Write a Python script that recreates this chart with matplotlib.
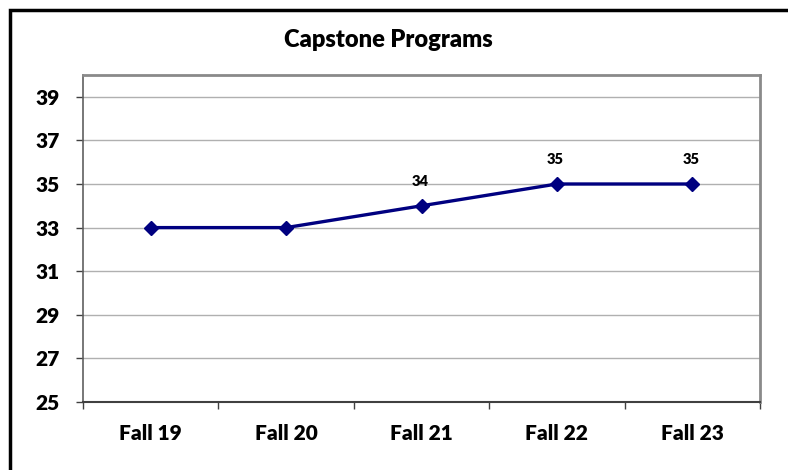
import matplotlib
matplotlib.use("Agg")
import matplotlib.pyplot as plt
from matplotlib.patches import Rectangle
import numpy as np

categories = ["Fall 19", "Fall 20", "Fall 21", "Fall 22", "Fall 23"]
values = [33, 33, 34, 35, 35]
labeled = [False, False, True, True, True]
yticks = [25, 27, 29, 31, 33, 35, 37, 39]

plt.rcParams['font.family'] = ['Lato', 'DejaVu Sans']
W = 'heavy'

fig = plt.figure(figsize=(7.88, 4.70), dpi=100)
ax = fig.add_axes([83/788, 1-402/470, (760-83)/788, (402-75)/470])

x = np.arange(len(categories))
ax.plot(x, values, color='#000080', lw=2.4, marker='D', markersize=7, zorder=3)
for xi, v, lab in zip(x, values, labeled):
    if lab:
        ax.annotate(str(v), (xi, v), xytext=(-1, 17.5), textcoords='offset points',
                    ha='center', va='center', fontsize=10.5, fontweight=W)

ax.set_xlim(-0.5, len(categories) - 0.5)
ax.set_ylim(25, 40)
ax.set_yticks(yticks)
ax.set_yticklabels([str(t) for t in yticks], fontsize=15, fontweight=W)
ax.yaxis.grid(True, color='#b0b0b0', lw=1)
ax.set_axisbelow(True)

ax.set_xticks(x)
ax.set_xticklabels(categories, fontsize=15, fontweight=W)
ax.set_xticks(np.arange(-0.5, len(categories), 1.0), minor=True)
ax.tick_params(axis='x', which='major', length=0, pad=16)
ax.tick_params(axis='x', which='minor', length=5, width=1, color='#404040', direction='out')
ax.tick_params(axis='y', length=5, width=1, color='#404040', direction='out', pad=12)

for s in ['top', 'right']:
    ax.spines[s].set_color('#8a8a8a')
    ax.spines[s].set_linewidth(2)
ax.spines['left'].set_color('#606060')
ax.spines['left'].set_linewidth(1.2)
ax.spines['bottom'].set_color('#404040')
ax.spines['bottom'].set_linewidth(1.5)

fig.text(388/788, 1 - 40/470, "Capstone Programs", ha='center', va='center',
         fontsize=17, fontweight=W)

fig.patches.append(Rectangle((9.5/788, -0.1), 1.2, (1 - 9.5/470) + 0.1, transform=fig.transFigure,
                             fill=False, edgecolor='black', lw=2.5))

fig.savefig("out.png", dpi=100)
